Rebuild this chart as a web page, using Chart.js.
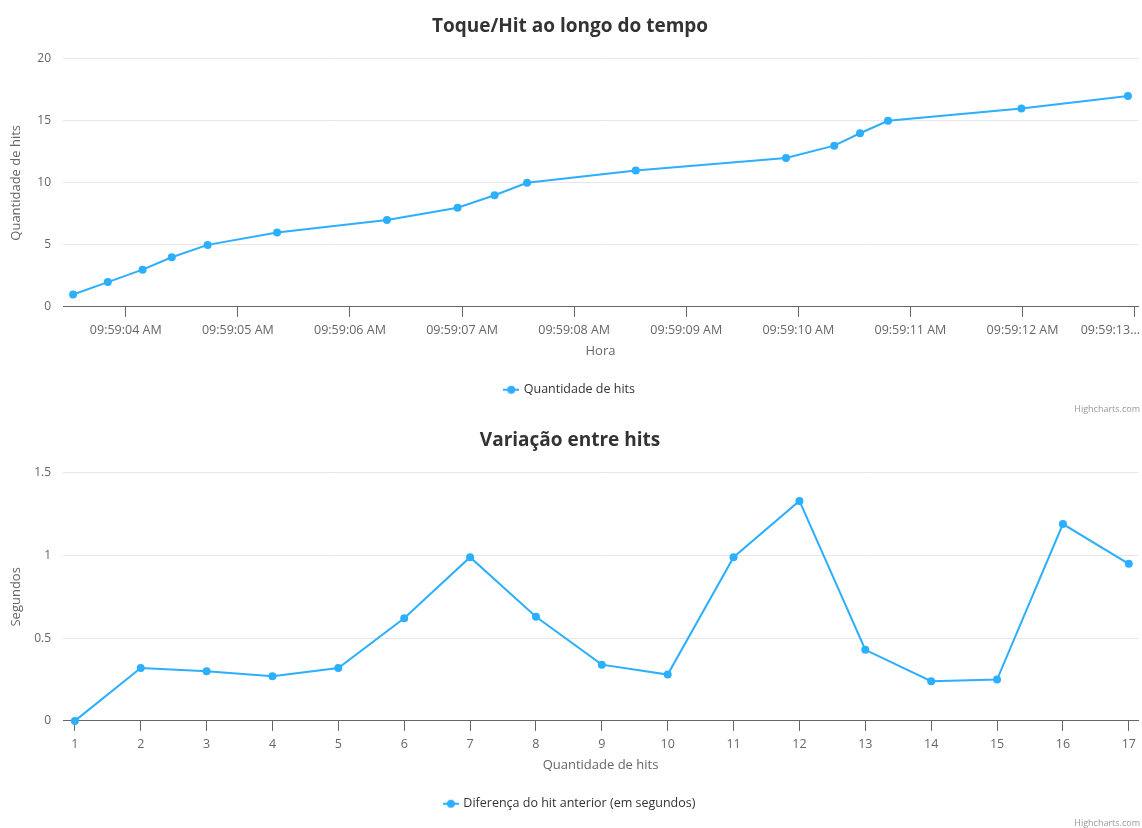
<!DOCTYPE html>
<html lang="pt-BR">
<head>
<meta charset="utf-8">
<title>Hits</title>
<script src="https://cdn.jsdelivr.net/npm/chart.js@4.4.1/dist/chart.umd.min.js"></script>
<style>
  body { margin: 0; background: #fff; font-family: 'Open Sans', sans-serif; }
  .chart-box { position: relative; width: 1142px; height: 414px; }
  .credits { position: absolute; right: 2px; bottom: -1px; font-size: 9px; color: #999; }
</style>
</head>
<body>
<div class="chart-box">
  <canvas id="hitsChart"></canvas>
  <div class="credits">Highcharts.com</div>
</div>
<div class="chart-box">
  <canvas id="diffChart"></canvas>
  <div class="credits">Highcharts.com</div>
</div>
<script>
// Dados
// Segundos após 09:59:00 de cada hit
const hitSeconds = [3.53, 3.84, 4.15, 4.41, 4.73, 5.35, 6.33, 6.96, 7.29, 7.58, 8.55, 9.89, 10.32, 10.55, 10.80, 11.99, 12.94];
const hitCounts = [1, 2, 3, 4, 5, 6, 7, 8, 9, 10, 11, 12, 13, 14, 15, 16, 17];
const timeTickSeconds = [4, 5, 6, 7, 8, 9, 10, 11, 12, 13];
const timeTickLabels = ['09:59:04 AM', '09:59:05 AM', '09:59:06 AM', '09:59:07 AM', '09:59:08 AM',
  '09:59:09 AM', '09:59:10 AM', '09:59:11 AM', '09:59:12 AM', '09:59:13...'];

// Diferença do hit anterior (em segundos)
const hitNumbers = [1, 2, 3, 4, 5, 6, 7, 8, 9, 10, 11, 12, 13, 14, 15, 16, 17];
const diffSeconds = [0, 0.32, 0.30, 0.27, 0.32, 0.62, 0.99, 0.63, 0.34, 0.28, 0.99, 1.33, 0.43, 0.24, 0.25, 1.19, 0.95];

const FONT = "'Open Sans', sans-serif";
const SERIES_COLOR = '#2caffe';
const AXIS_COLOR = '#666';

// Ícone da legenda: linha com um círculo no meio (estilo Highcharts)
function makeLegendIcon() {
  const c = document.createElement('canvas');
  c.width = 16;
  c.height = 10;
  const ctx = c.getContext('2d');
  ctx.strokeStyle = SERIES_COLOR;
  ctx.lineWidth = 2;
  ctx.beginPath();
  ctx.moveTo(0, 5);
  ctx.lineTo(16, 5);
  ctx.stroke();
  ctx.fillStyle = SERIES_COLOR;
  ctx.beginPath();
  ctx.arc(8, 5, 4, 0, Math.PI * 2);
  ctx.fill();
  return c;
}

const legendIcon = makeLegendIcon();

// Último rótulo do eixo X encostado na borda direita (truncado no original)
const lastLabelInsidePlugin = {
  id: 'lastLabelInside',
  beforeDraw(chart) {
    const items = chart.scales.x.getLabelItems();
    const last = items[items.length - 1];
    if (!last) return;
    last.options.textAlign = 'right';
    last.options.translation = [chart.width - 2, last.options.translation[1]];
  },
};

function buildOptions(cfg) {
  return {
    responsive: true,
    maintainAspectRatio: false,
    animation: false,
    layout: { padding: { left: 0, right: 2, top: 0, bottom: 8 } },
    plugins: {
      title: {
        display: true,
        text: cfg.title,
        color: '#333',
        font: { family: FONT, size: 19, weight: 'bold' },
        padding: { top: 15, bottom: 21 },
      },
      legend: {
        position: 'bottom',
        labels: {
          usePointStyle: true,
          pointStyle: legendIcon,
          color: '#333',
          font: { family: FONT, size: 12.5 },
          padding: 10,
        },
      },
      tooltip: { enabled: false },
    },
    scales: {
      x: {
        type: 'linear',
        min: cfg.xMin,
        max: cfg.xMax,
        afterBuildTicks: (scale) => {
          scale.ticks = cfg.xTicks.map((v) => ({ value: v }));
        },
        afterFit: (scale) => {
          // o último rótulo pode passar da borda, como no original
          scale.paddingRight = 0;
          scale.paddingLeft = 0;
        },
        ticks: {
          color: AXIS_COLOR,
          font: { family: FONT, size: 12.5 },
          padding: 6,
          maxRotation: 0,
          autoSkip: false,
          callback: cfg.xLabel,
        },
        grid: {
          drawOnChartArea: false,
          drawTicks: true,
          tickLength: 10,
          tickColor: AXIS_COLOR,
        },
        border: { display: true, color: AXIS_COLOR, width: 1 },
        title: {
          display: true,
          text: cfg.xTitle,
          color: AXIS_COLOR,
          font: { family: FONT, size: 13 },
          padding: { top: 0, bottom: 14 },
        },
      },
      y: {
        min: cfg.yMin,
        max: cfg.yMax,
        ticks: {
          stepSize: cfg.yStep,
          color: AXIS_COLOR,
          font: { family: FONT, size: 12 },
          padding: 12,
          callback: (value) => String(value),
        },
        grid: { color: '#e6e6e6', drawTicks: false },
        border: { display: false },
        title: {
          display: true,
          text: cfg.yTitle,
          color: AXIS_COLOR,
          font: { family: FONT, size: 13 },
          padding: { top: 8, bottom: 0 },
        },
        afterFit: (scale) => {
          scale.width = 63;
        },
      },
    },
  };
}

function lineDataset(label, points) {
  return {
    label,
    data: points,
    borderColor: SERIES_COLOR,
    backgroundColor: SERIES_COLOR,
    borderWidth: 2,
    pointRadius: 4,
    pointBorderWidth: 0,
    pointStyle: 'circle',
    tension: 0,
    clip: false,
  };
}

// Gráfico 1: quantidade de hits ao longo do tempo
new Chart(document.getElementById('hitsChart'), {
  type: 'line',
  data: {
    datasets: [
      lineDataset('Quantidade de hits', hitSeconds.map((s, i) => ({ x: s, y: hitCounts[i] }))),
    ],
  },
  options: buildOptions({
    title: 'Toque/Hit ao longo do tempo',
    xMin: 3.44,
    xMax: 13.03,
    xTicks: timeTickSeconds,
    xLabel: (value) => timeTickLabels[timeTickSeconds.indexOf(value)],
    xTitle: 'Hora',
    yMin: 0,
    yMax: 20,
    yStep: 5,
    yTitle: 'Quantidade de hits',
  }),
  plugins: [lastLabelInsidePlugin],
});

// Gráfico 2: variação entre hits
new Chart(document.getElementById('diffChart'), {
  type: 'line',
  data: {
    datasets: [
      lineDataset('Diferença do hit anterior (em segundos)', hitNumbers.map((n, i) => ({ x: n, y: diffSeconds[i] }))),
    ],
  },
  options: buildOptions({
    title: 'Variação entre hits',
    xMin: 0.82,
    xMax: 17.14,
    xTicks: hitNumbers,
    xLabel: (value) => String(value),
    xTitle: 'Quantidade de hits',
    yMin: 0,
    yMax: 1.5,
    yStep: 0.5,
    yTitle: 'Segundos',
  }),
});
</script>
</body>
</html>
